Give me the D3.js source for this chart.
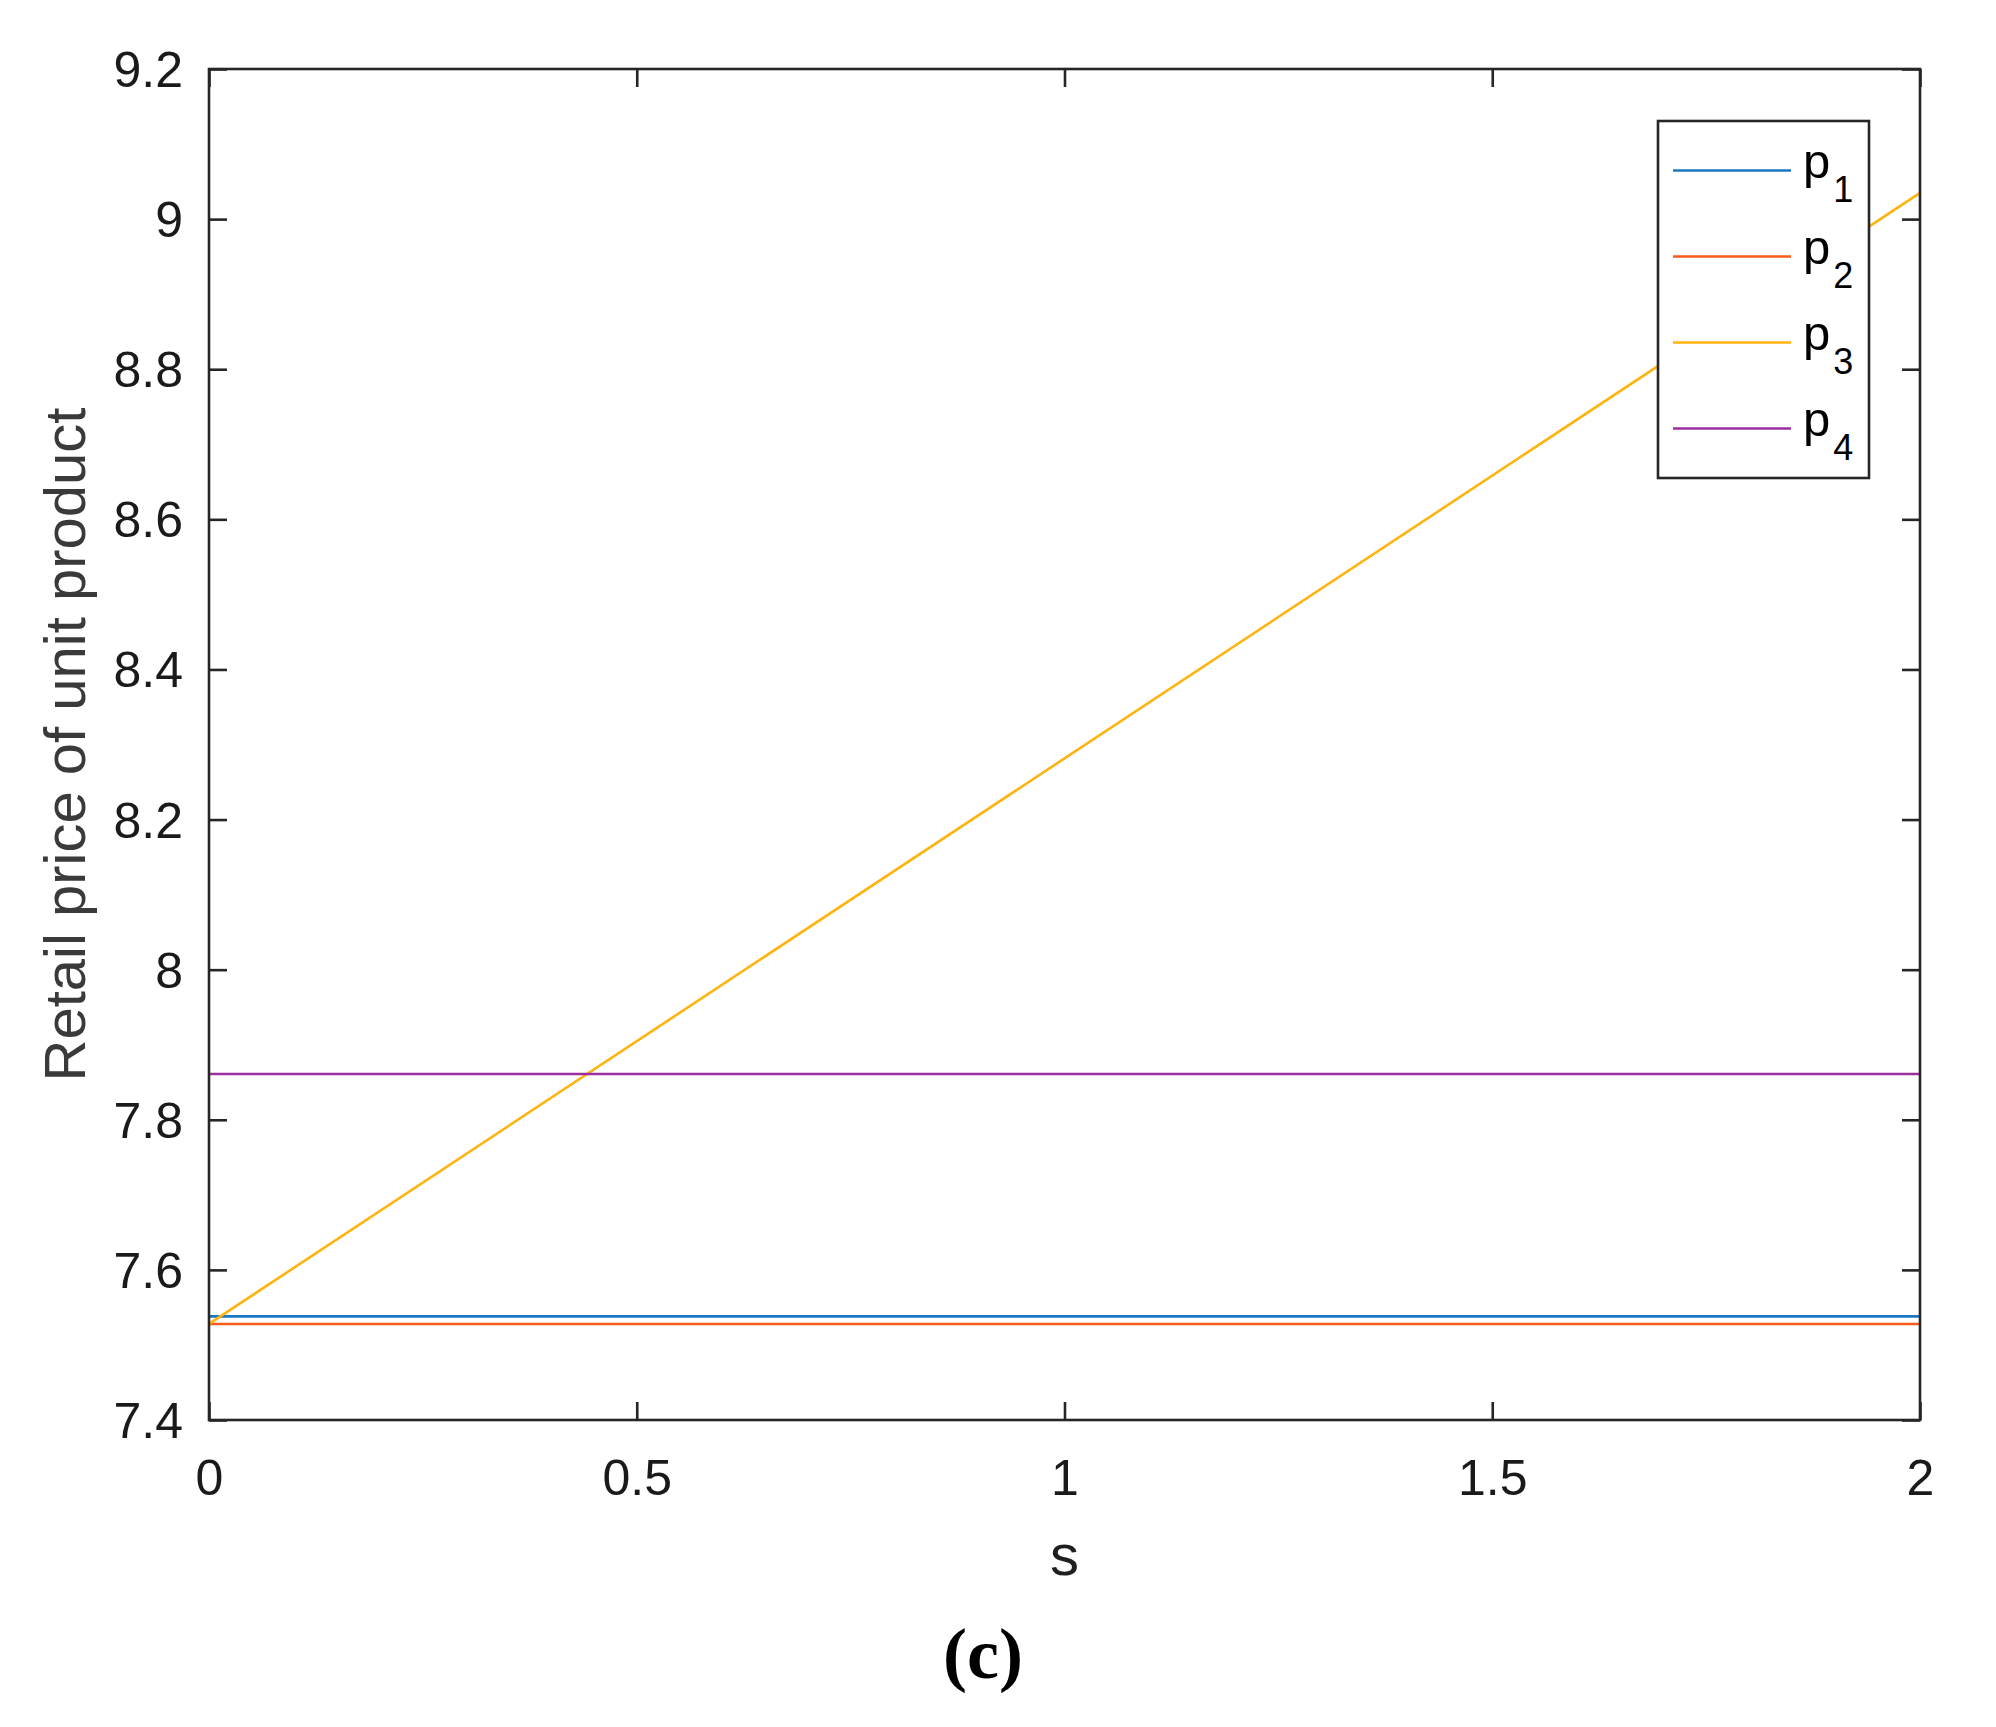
<!DOCTYPE html>
<html>
<head>
<meta charset="utf-8">
<script src="https://cdn.jsdelivr.net/npm/d3@7"></script>
<style>
  html, body { margin: 0; padding: 0; background: #fff; }
  svg { display: block; }
</style>
</head>
<body>
<svg id="chart" width="1996" height="1727"></svg>
<script>
// ---- data ----
const sValues = [0, 2];
const p1 = [7.538, 7.538];
const p2 = [7.528, 7.528];
const p3 = [7.528, 9.035];
const p4 = [7.861, 7.861];
const seriesNames = ["p1", "p2", "p3", "p4"];
const seriesColors = ["#1a78c2", "#f85a1c", "#ffb30f", "#9a2fa0"];
const xTicks = [0, 0.5, 1, 1.5, 2];
const yTicks = [7.4, 7.6, 7.8, 8, 8.2, 8.4, 8.6, 8.8, 9, 9.2];
const xLabel = "s";
const yLabel = "Retail price of unit product";
const caption = "(c)";

// ---- layout ----
const L = 209, R = 1920, T = 69, B = 1420;
const svg = d3.select("#chart");
const x = d3.scaleLinear().domain([0, 2]).range([L, R]);
const y = d3.scaleLinear().domain([7.4, 9.2]).range([B, T]);
const axisColor = "#262626";
const font = "'Liberation Sans', Arial, Helvetica, sans-serif";
const tickLen = 18;
const fmt = v => d3.format("~g")(+v.toFixed(2));

svg.append("defs").append("clipPath").attr("id", "clip")
  .append("rect").attr("x", L).attr("y", T).attr("width", R - L).attr("height", B - T);

// ---- series ----
const allSeries = [p1, p2, p3, p4];
const line = d3.line().x((d, i) => x(sValues[i])).y(d => y(d));
const gLines = svg.append("g").attr("clip-path", "url(#clip)");
allSeries.forEach((s, k) => {
  gLines.append("path").datum(s)
    .attr("d", line)
    .attr("fill", "none")
    .attr("stroke", seriesColors[k])
    .attr("stroke-width", 2.6);
});

// ---- axes ----
const axBottom = d3.axisBottom(x).tickValues(xTicks).tickSize(-tickLen).tickFormat(fmt).tickPadding(40);
const axTop = d3.axisTop(x).tickValues(xTicks).tickSize(-tickLen).tickFormat("");
const axLeft = d3.axisLeft(y).tickValues(yTicks).tickSize(-tickLen).tickFormat(fmt).tickPadding(26 + tickLen);
const axRight = d3.axisRight(y).tickValues(yTicks).tickSize(-tickLen).tickFormat("");

function styleAxis(g) {
  g.select(".domain").remove();
  g.selectAll(".tick line").attr("stroke", axisColor).attr("stroke-width", 2.6);
  g.selectAll(".tick text").attr("fill", "#1a1a1a").style("font-family", font).style("font-size", "50px");
}
svg.append("g").attr("transform", `translate(0,${B})`).call(axBottom).call(styleAxis)
  .selectAll(".tick text").attr("dy", "0.71em").attr("y", 39);
svg.append("g").attr("transform", `translate(0,${T})`).call(axTop).call(styleAxis);
svg.append("g").attr("transform", `translate(${L},0)`).call(axLeft).call(styleAxis)
  .selectAll(".tick text").attr("x", -26).attr("dy", "0.35em");
svg.append("g").attr("transform", `translate(${R},0)`).call(axRight).call(styleAxis);

// box
svg.append("rect").attr("x", L).attr("y", T).attr("width", R - L).attr("height", B - T)
  .attr("fill", "none").attr("stroke", axisColor).attr("stroke-width", 2.6);

// ---- legend ----
const lg = svg.append("g");
const lgX = 1658, lgY = 121, lgW = 211, lgH = 357;
lg.append("rect").attr("x", lgX).attr("y", lgY).attr("width", lgW).attr("height", lgH)
  .attr("fill", "#fff").attr("stroke", axisColor).attr("stroke-width", 2.6);
seriesNames.forEach((name, k) => {
  const cy = 170.5 + k * 86;
  lg.append("line").attr("x1", 1673).attr("x2", 1791).attr("y1", cy).attr("y2", cy)
    .attr("stroke", seriesColors[k]).attr("stroke-width", 2.6);
  const t = lg.append("text").attr("x", 1803).attr("y", cy + 7)
    .attr("fill", "#000").style("font-family", font).style("font-size", "49px");
  t.append("tspan").text(name[0]);
  t.append("tspan").attr("dx", 3).attr("dy", 24).style("font-size", "36px").text(name.slice(1));
});

// ---- labels ----
svg.append("text").attr("x", (L + R) / 2).attr("y", 1575)
  .attr("text-anchor", "middle").attr("fill", "#1f1f1f")
  .style("font-family", font).style("font-size", "58px").text(xLabel);
svg.append("text")
  .attr("transform", `translate(85,${(T + B) / 2}) rotate(-90)`)
  .attr("text-anchor", "middle").attr("fill", "#3a3a3a")
  .style("font-family", font).style("font-size", "58px").text(yLabel);
svg.append("text").attr("x", 983).attr("y", 1678)
  .attr("text-anchor", "middle").attr("fill", "#000")
  .style("font-family", "'Liberation Serif', 'Times New Roman', serif")
  .style("font-weight", "bold").style("font-size", "72px").text(caption);
</script>
</body>
</html>
